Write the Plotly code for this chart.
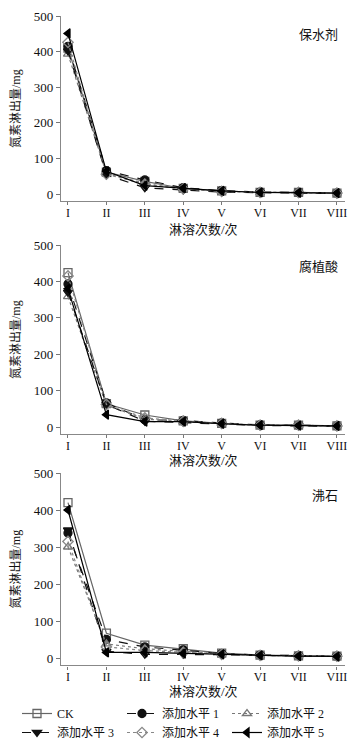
import plotly.graph_objects as go

leach_times = [1, 2, 3, 4, 5, 6, 7, 8]
tick_labels = ["I", "II", "III", "IV", "V", "VI", "VII", "VIII"]
series_names = ["CK", "添加水平 1", "添加水平 2", "添加水平 3", "添加水平 4", "添加水平 5"]
panel_titles = ["保水剂", "腐植酸", "沸石"]

# panel 1: 保水剂
p1_ck = [410, 62, 36, 16, 9, 5, 5, 3]
p1_l1 = [415, 66, 40, 18, 10, 6, 5, 3]
p1_l2 = [393, 58, 30, 14, 8, 5, 4, 3]
p1_l3 = [402, 54, 18, 12, 6, 4, 3, 2]
p1_l4 = [426, 56, 28, 15, 8, 5, 5, 3]
p1_l5 = [451, 64, 24, 17, 9, 5, 4, 3]

# panel 2: 腐植酸
p2_ck = [424, 64, 33, 17, 10, 5, 5, 3]
p2_l1 = [393, 66, 20, 18, 11, 6, 5, 3]
p2_l2 = [358, 60, 22, 14, 9, 5, 4, 3]
p2_l3 = [370, 62, 16, 13, 8, 4, 4, 2]
p2_l4 = [415, 62, 25, 16, 10, 5, 5, 3]
p2_l5 = [380, 34, 15, 15, 9, 5, 4, 3]

# panel 3: 沸石
p3_ck = [420, 67, 35, 25, 13, 8, 6, 5]
p3_l1 = [338, 50, 30, 22, 12, 8, 6, 5]
p3_l2 = [300, 38, 25, 18, 11, 7, 6, 4]
p3_l3 = [346, 18, 10, 10, 9, 7, 5, 4]
p3_l4 = [315, 30, 20, 15, 10, 7, 6, 5]
p3_l5 = [400, 15, 15, 12, 10, 7, 5, 4]

panels = [
    [p1_ck, p1_l1, p1_l2, p1_l3, p1_l4, p1_l5],
    [p2_ck, p2_l1, p2_l2, p2_l3, p2_l4, p2_l5],
    [p3_ck, p3_l1, p3_l2, p3_l3, p3_l4, p3_l5],
]

styles = [
    dict(symbol="square-open", color="#666666", dash="solid"),
    dict(symbol="circle", color="#111111", dash="dash"),
    dict(symbol="triangle-up-open", color="#777777", dash="dot"),
    dict(symbol="triangle-down", color="#111111", dash="dash"),
    dict(symbol="diamond-open", color="#888888", dash="dot"),
    dict(symbol="triangle-left", color="#000000", dash="solid"),
]

# page body has an 8px margin: the figure is sized to fill the rest of the viewport
OFF = 8
W, H = 360 - OFF, 741 - OFF
# viewport pixel geometry of each panel: (px of y=500, px of y=-20)
panel_px = [(16, 201.3), (245, 434.3), (473, 665.4)]
x_dom = [(61 - OFF) / W, (345 - OFF) / W]

def py(v):
    return 1 - (v - OFF) / H

def px(v):
    return (v - OFF) / W

SERIF = "Liberation Serif, Noto Sans CJK SC, serif"

fig = go.Figure()
for pi, vals in enumerate(panels):
    xa = "x" if pi == 0 else f"x{pi + 1}"
    ya = "y" if pi == 0 else f"y{pi + 1}"
    for si, ys in enumerate(vals):
        st = styles[si]
        fig.add_trace(go.Scatter(
            x=leach_times, y=ys, name=series_names[si],
            mode="lines+markers",
            line=dict(color=st["color"], width=1.2, dash=st["dash"]),
            marker=dict(symbol=st["symbol"], size=8, color=st["color"],
                        line=dict(color=st["color"], width=1.3)),
            xaxis=xa, yaxis=ya, showlegend=(pi == 0), legendgroup=series_names[si],
        ))

layout = dict(
    width=W, height=H,
    margin=dict(l=0, r=0, t=0, b=0, autoexpand=False),
    paper_bgcolor="white", plot_bgcolor="white",
    font=dict(family=SERIF, size=12, color="#111111"),
    showlegend=True,
    legend=dict(orientation="h", x=px(17), xanchor="left", y=py(699), yanchor="top",
                entrywidth=60, entrywidthmode="pixels", tracegroupgap=0,
                font=dict(family=SERIF, size=12), itemwidth=30, bgcolor="rgba(0,0,0,0)"),
)
annotations = []
for pi in range(3):
    top, bot = panel_px[pi]
    suffix = "" if pi == 0 else str(pi + 1)
    layout[f"xaxis{suffix}"] = dict(
        domain=x_dom, range=[0.818, 8.21], anchor=f"y{suffix}",
        tickvals=leach_times, ticktext=tick_labels,
        ticks="outside", ticklen=3, tickcolor="#777777",
        showline=True, linecolor="#888888", linewidth=1.2,
        showgrid=False, zeroline=False, automargin=False,
        ticklabelstandoff=-3,
        tickfont=dict(family="Liberation Serif, serif", size=12, color="#111111"),
    )
    layout[f"yaxis{suffix}"] = dict(
        domain=[py(bot), py(top)], range=[-20, 500], anchor=f"x{suffix}",
        tickvals=[0, 100, 200, 300, 400, 500],
        ticks="outside", ticklen=4, tickcolor="#777777",
        showline=True, linecolor="#888888", linewidth=1.2,
        showgrid=False, zeroline=False, automargin=False,
        ticklabeloverflow="allow",
        tickfont=dict(family=SERIF, size=13, color="#111111"),
        title=dict(text="氮素淋出量/mg", font=dict(family=SERIF, size=12), standoff=14),
    )
    title_y = [35, 266, 495][pi]
    annotations.append(dict(
        text=panel_titles[pi], x=px(340), y=py(title_y), xref="paper", yref="paper",
        xanchor="right", yanchor="middle", showarrow=False,
        font=dict(family=SERIF, size=13, color="#111111"),
    ))
    xt_y = [230, 461, 691][pi]
    annotations.append(dict(
        text="淋溶次数/次", x=px(204), y=py(xt_y), xref="paper", yref="paper",
        xanchor="center", yanchor="middle", showarrow=False,
        font=dict(family=SERIF, size=13, color="#111111"),
    ))
layout["annotations"] = annotations
fig.update_layout(**layout)
fig.write_html("out.html")
